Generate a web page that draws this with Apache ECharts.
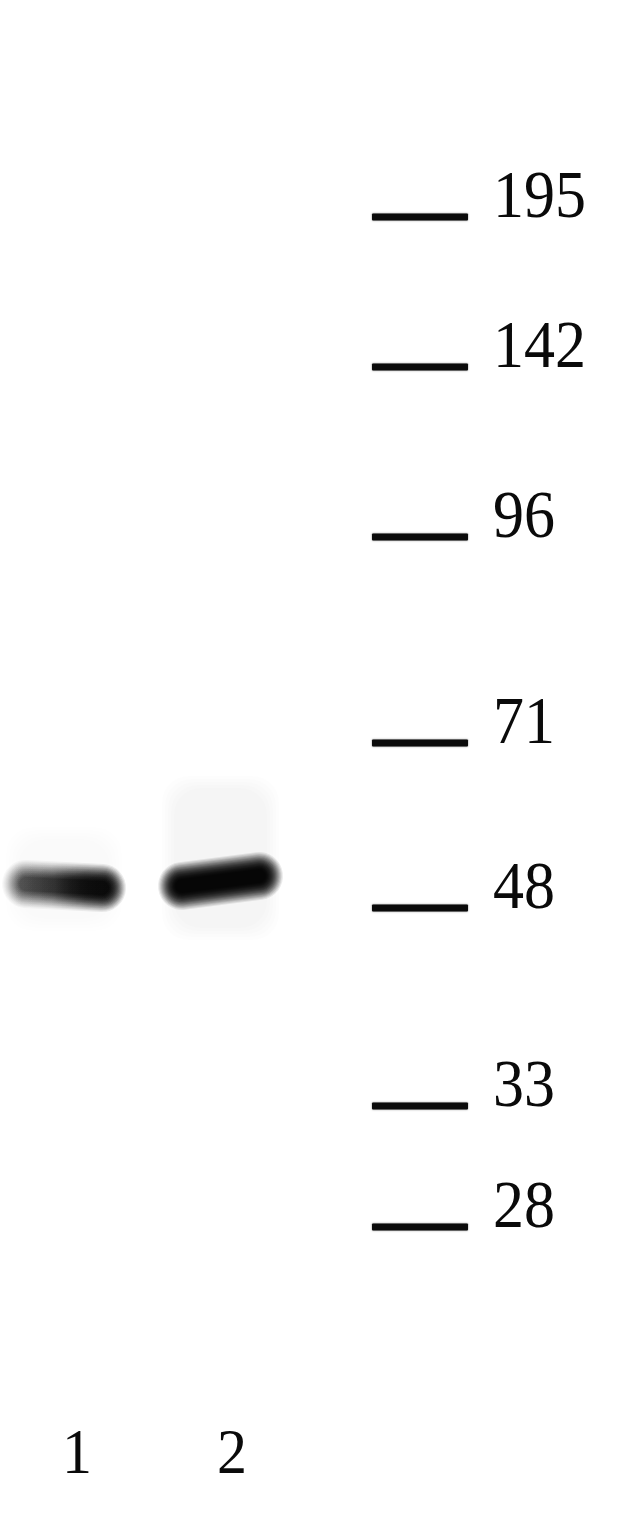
<!DOCTYPE html>
<html>
<head>
<meta charset="utf-8">
<title>Western blot</title>
<script src="https://cdn.jsdelivr.net/npm/echarts@6/dist/echarts.min.js"></script>
<style>
  html, body { margin: 0; padding: 0; background: #fff; }
  #chart { width: 634px; height: 1520px; }
</style>
</head>
<body>
<div id="chart"></div>
<script>
// gel units: x = across the membrane, y = migration from the top of the scan
var markerLabels = ['195', '142', '96', '71', '48', '33', '28'];   // kDa
var markerY = [217, 367, 537, 743, 908, 1106, 1227];
var markerLane = [372, 468];                                          // ladder lane extent

var laneNames = ['1', '2'];
var laneLabelX = [77, 232];
var laneLabelY = 1456;

// one band per lane: left end x, left end y, right end x, right end y, density (0..1)
var bandXLeft = [26, 182];
var bandYLeft = [884, 886];
var bandXRight = [102, 259];
var bandYRight = [888, 876];
var bandDensity = [0.8, 1.0];

var markerData = markerLabels.map(function (lab, i) {
  return [markerLane[0], markerY[i], markerLane[1], lab];
});
var bandData = laneNames.map(function (n, i) {
  return [bandXLeft[i], bandYLeft[i], bandXRight[i], bandYRight[i], bandDensity[i]];
});
var laneData = laneNames.map(function (n, i) {
  return [laneLabelX[i], laneLabelY, n];
});

var serif = "'Liberation Serif', 'Times New Roman', 'DejaVu Serif', serif";

function renderBand(params, api) {
  var p0 = api.coord([api.value(0), api.value(1)]);
  var p1 = api.coord([api.value(2), api.value(3)]);
  var d = api.value(4);
  var i = params.dataIndex;
  var kids = [];
  // faint haze around the lane, built from a few very light layers
  var top = Math.min(p0[1], p1[1]);
  for (var h = 0; h < 5; h++) {
    var pad = 12 - h * 3;
    kids.push({
      type: 'rect',
      shape: {
        x: p0[0] - 8 - pad, y: top - (i ? 88 : 45) - pad,
        width: p1[0] - p0[0] + 16 + 2 * pad, height: (i ? 140 : 80) + 2 * pad, r: 26
      },
      style: { fill: 'rgba(0,0,0,' + (i ? 0.009 : 0.005) + ')' }
    });
  }
  // blurred band: stacked round-capped strokes, wide and light to narrow and dark
  var n = 16, wMax = 48, wMin = 14;
  for (var k = 0; k < n; k++) {
    var t = k / (n - 1);
    var w = wMax - t * (wMax - wMin);
    var a = (0.08 + 0.22 * t);
    var stroke = d > 0.9
      ? 'rgba(0,0,0,' + a + ')'
      : new echarts.graphic.LinearGradient(0, 0, 1, 0, [
          { offset: 0, color: 'rgba(0,0,0,' + (a * 0.32) + ')' },
          { offset: 0.4, color: 'rgba(0,0,0,' + (a * 0.5) + ')' },
          { offset: 0.7, color: 'rgba(0,0,0,' + (a * 0.85) + ')' },
          { offset: 1, color: 'rgba(0,0,0,' + a + ')' }
        ]);
    kids.push({
      type: 'polyline',
      shape: { points: [p0, p1] },
      style: { fill: null, stroke: stroke, lineWidth: w, lineCap: 'round' }
    });
  }
  return { type: 'group', children: kids };
}

function renderMarker(params, api) {
  var a = api.coord([api.value(0), api.value(1)]);
  var b = api.coord([api.value(2), api.value(1)]);
  return {
    type: 'group',
    children: [{
      type: 'rect',
      shape: { x: a[0], y: a[1] - 3.5, width: b[0] - a[0], height: 7, r: 1 },
      style: { fill: '#0a0a0a', shadowBlur: 2, shadowColor: 'rgba(0,0,0,0.5)' }
    }, {
      type: 'text',
      x: b[0] + 25,
      y: a[1] - 18,
      scaleY: 1.1,
      style: { text: markerLabels[params.dataIndex], x: 0, y: 0, fill: '#0a0a0a', font: '62px ' + serif, align: 'left', verticalAlign: 'middle' }
    }]
  };
}

function renderLane(params, api) {
  var p = api.coord([api.value(0), api.value(1)]);
  return {
    type: 'text',
    x: p[0],
    y: p[1],
    scaleY: 1.05,
    style: { text: laneNames[params.dataIndex], x: 0, y: 0, fill: '#0a0a0a', font: '60px ' + serif, align: 'center', verticalAlign: 'middle' }
  };
}

var chart = echarts.init(document.getElementById('chart'));
chart.setOption({
  animation: false,
  backgroundColor: '#ffffff',
  grid: { left: 0, right: 0, top: 0, bottom: 0 },
  xAxis: { type: 'value', min: 0, max: 634, show: false },
  yAxis: { type: 'value', min: 0, max: 1520, inverse: true, show: false },
  series: [
    { type: 'custom', name: 'bands', renderItem: renderBand, data: bandData, clip: false, z: 1 },
    { type: 'custom', name: 'ladder', renderItem: renderMarker, data: markerData, clip: false, z: 2 },
    { type: 'custom', name: 'lanes', renderItem: renderLane, data: laneData, clip: false, z: 2 }
  ]
});
</script>
</body>
</html>
